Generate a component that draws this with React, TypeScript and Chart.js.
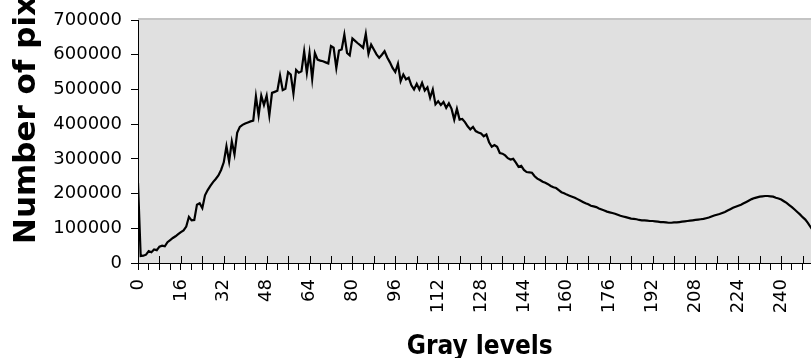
import React, { useEffect, useRef } from 'react';
import { Chart, registerables } from 'chart.js';

Chart.register(...registerables);

const xAxisTitle = 'Gray levels';
const yAxisTitle = 'Number of pixels';
const yMin = 0;
const yMax = 700000;
const yStep = 100000;
const xMin = 0;
const xMax = 255;
const xTickStep = 4;
const xLabelEvery = 16;
const xMajorEvery = 8;

// pixel counts per gray level, 0..63
const counts0to63 = [
  230000, 20000, 21000, 24000, 34000, 31000, 39000, 37000,
  47000, 50000, 48000, 60000, 66000, 72000, 77000, 83000,
  89000, 94000, 105000, 133000, 123000, 124000, 168000, 172000,
  158000, 195000, 210000, 222000, 233000, 242000, 252000, 268000,
  290000, 336000, 292000, 350000, 313000, 375000, 392000, 398000,
  402000, 405000, 408000, 410000, 480000, 425000, 482000, 455000,
  482000, 425000, 490000, 493000, 496000, 540000, 498000, 502000,
  550000, 543000, 488000, 556000, 548000, 552000, 610000, 548000,
];
// 64..127
const counts64to127 = [
  605000, 530000, 605000, 586000, 583000, 581000, 578000, 575000,
  625000, 620000, 562000, 612000, 615000, 658000, 605000, 598000,
  647000, 640000, 633000, 627000, 620000, 660000, 603000, 629000,
  615000, 601000, 591000, 600000, 610000, 592000, 578000, 562000,
  550000, 574000, 524000, 543000, 529000, 534000, 512000, 500000,
  516000, 500000, 519000, 497000, 506000, 476000, 500000, 457000,
  466000, 455000, 464000, 447000, 460000, 444000, 413000, 444000,
  413000, 415000, 406000, 394000, 385000, 392000, 380000, 376000,
];
// 128..191
const counts128to191 = [
  373000, 365000, 370000, 348000, 335000, 340000, 335000, 317000,
  315000, 310000, 302000, 298000, 300000, 289000, 277000, 280000,
  268000, 262000, 261000, 260000, 250000, 243000, 239000, 234000,
  231000, 227000, 222000, 218000, 216000, 210000, 204000, 201000,
  197000, 194000, 191000, 188000, 184000, 180000, 176000, 172000,
  169000, 165000, 163000, 161000, 157000, 154000, 151000, 148000,
  146000, 144000, 142000, 139000, 136000, 134000, 132000, 130000,
  128000, 127000, 126000, 124000, 123000, 123000, 122000, 121000,
];
// 192..255
const counts192to255 = [
  121000, 120000, 119000, 118000, 118000, 117000, 116000, 116000,
  117000, 117000, 118000, 119000, 120000, 121000, 122000, 123000,
  124000, 125000, 126000, 127000, 129000, 131000, 134000, 137000,
  139000, 141000, 144000, 147000, 151000, 155000, 159000, 162000,
  165000, 168000, 172000, 176000, 180000, 184000, 187000, 189000,
  191000, 192000, 193000, 193000, 192000, 191000, 188000, 186000,
  183000, 178000, 173000, 167000, 161000, 154000, 147000, 140000,
  132000, 125000, 115000, 103000, 92000, 80000, 68000, 55000,
];

const pixelCounts = [...counts0to63, ...counts64to127, ...counts128to191, ...counts192to255];

const CANVAS_W = 852;
const CANVAS_H = 372;
const AREA_LEFT = 138;
const AREA_BOTTOM = 263;

const decorPlugin = {
  id: 'decor',
  beforeDraw(chart: any) {
    const { ctx, chartArea } = chart;
    ctx.save();
    ctx.fillStyle = '#e0e0e0';
    ctx.fillRect(chartArea.left, chartArea.top, chartArea.right - chartArea.left, chartArea.bottom - chartArea.top);
    ctx.fillStyle = '#c4c4c4';
    ctx.fillRect(chartArea.left, chartArea.top - 2, chartArea.right - chartArea.left + 2, 2);
    ctx.fillRect(chartArea.right, chartArea.top - 2, 2, chartArea.bottom - chartArea.top + 2);
    ctx.restore();
  },
  beforeDatasetsDraw(chart: any) {
    const { ctx, chartArea, scales } = chart;
    const xs = scales.x;
    ctx.save();
    ctx.strokeStyle = '#000';
    ctx.lineWidth = 1;
    for (let g = xMin; g <= xMax; g += xMajorEvery) {
      const px = Math.round(xs.getPixelForValue(g)) + 0.5;
      ctx.beginPath();
      ctx.moveTo(px, chartArea.bottom - 7);
      ctx.lineTo(px, chartArea.bottom);
      ctx.stroke();
    }
    ctx.restore();
  },
  afterDraw(chart: any) {
    const { ctx } = chart;
    ctx.save();
    ctx.translate(35, 244);
    ctx.rotate(-Math.PI / 2);
    ctx.font = 'bold 31px "DejaVu Sans", Verdana, sans-serif';
    ctx.fillStyle = '#000';
    ctx.textAlign = 'left';
    ctx.textBaseline = 'alphabetic';
    ctx.fillText(yAxisTitle, 0, 0);
    ctx.restore();
  },
};

export default function App() {
  const canvasRef = useRef<HTMLCanvasElement | null>(null);

  useEffect(() => {
    const canvas = canvasRef.current;
    if (!canvas) return;
    const chart = new Chart(canvas, {
      type: 'line',
      data: {
        datasets: [
          {
            data: pixelCounts.map((v, i) => ({ x: xMin + i, y: v })),
            borderColor: '#000',
            borderWidth: 2.2,
            pointRadius: 0,
            tension: 0,
            fill: false,
          },
        ],
      },
      options: {
        responsive: false,
        animation: false,
        devicePixelRatio: 1,
        layout: { padding: { top: 20, right: 10, left: 0, bottom: 0 } },
        plugins: { legend: { display: false }, tooltip: { enabled: false }, title: { display: false } },
        scales: {
          x: {
            type: 'linear',
            min: xMin,
            max: xMax,
            afterFit: (scale: any) => {
              scale.height = CANVAS_H - AREA_BOTTOM;
            },
            grid: {
              display: true,
              drawOnChartArea: false,
              drawTicks: true,
              tickLength: 7,
              tickColor: '#000',
              lineWidth: 1,
            },
            border: { display: true, color: '#000', width: 1 },
            ticks: {
              stepSize: xTickStep,
              autoSkip: false,
              maxRotation: 90,
              minRotation: 90,
              padding: 9,
              color: '#000',
              font: { family: '"DejaVu Sans", Verdana, sans-serif', size: 18 },
              callback: (v: any) => (Number(v) % xLabelEvery === 0 && Number(v) <= 240 ? String(v) : ''),
            },
            title: {
              display: true,
              text: xAxisTitle,
              color: '#000',
              font: { family: '"DejaVu Sans Condensed", "DejaVu Sans", sans-serif', size: 26, weight: 'bold' },
              padding: { top: 0, bottom: 9 },
            },
          },
          y: {
            type: 'linear',
            min: yMin,
            max: yMax,
            afterFit: (scale: any) => {
              scale.width = AREA_LEFT;
            },
            grid: {
              display: true,
              drawOnChartArea: false,
              drawTicks: true,
              tickLength: 7,
              tickColor: '#000',
            },
            border: { display: true, color: '#000', width: 1 },
            ticks: {
              stepSize: yStep,
              padding: 9,
              color: '#000',
              font: { family: '"DejaVu Sans", Verdana, sans-serif', size: 18 },
              callback: (v: any) => String(v),
            },
            title: { display: false },
          },
        },
      },
      plugins: [decorPlugin],
    } as any);
    return () => chart.destroy();
  }, []);

  return (
    <div
      style={{
        position: 'fixed',
        left: 0,
        top: 0,
        width: 811,
        height: 358,
        overflow: 'hidden',
        background: '#fff',
      }}
    >
      <canvas ref={canvasRef} width={CANVAS_W} height={CANVAS_H} style={{ display: 'block', width: CANVAS_W, height: CANVAS_H }} />
    </div>
  );
}
